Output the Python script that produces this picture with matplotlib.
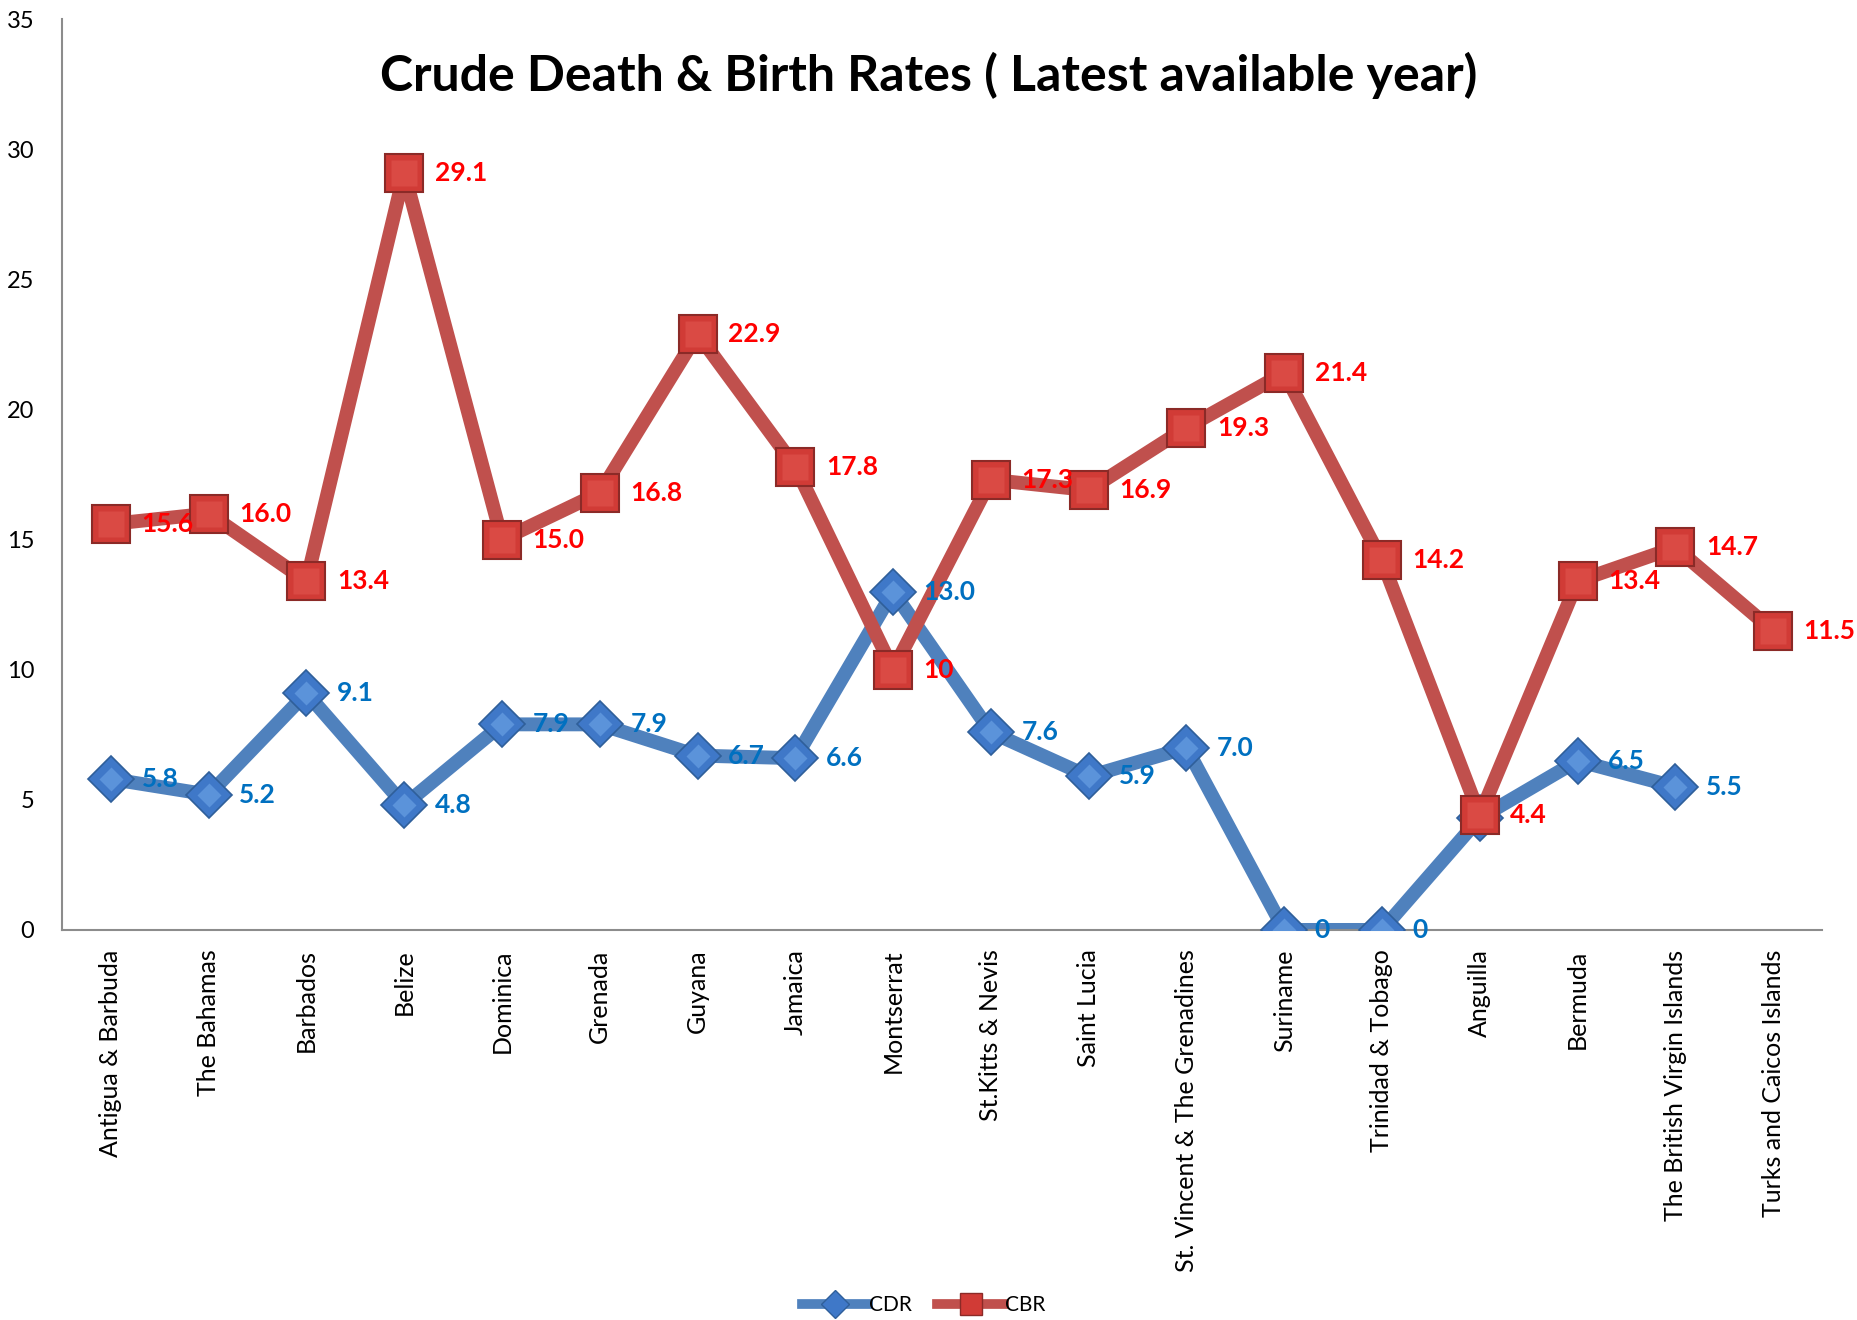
import matplotlib
matplotlib.use("Agg")
import matplotlib.pyplot as plt
import numpy as np
from matplotlib.lines import Line2D

plt.rcParams['font.family'] = ['Lato', 'DejaVu Sans']

countries = ["Antigua & Barbuda", "The Bahamas", "Barbados", "Belize", "Dominica",
             "Grenada", "Guyana", "Jamaica", "Montserrat", "St.Kitts & Nevis",
             "Saint Lucia", "St. Vincent & The Grenadines", "Suriname",
             "Trinidad & Tobago", "Anguilla", "Bermuda", "The British Virgin Islands",
             "Turks and Caicos Islands"]
cdr = [5.8, 5.2, 9.1, 4.8, 7.9, 7.9, 6.7, 6.6, 13.0, 7.6, 5.9, 7.0, 0, 0, 4.3, 6.5, 5.5, np.nan]
cdr_labels = ["5.8", "5.2", "9.1", "4.8", "7.9", "7.9", "6.7", "6.6", "13.0", "7.6",
              "5.9", "7.0", "0", "0", "", "6.5", "5.5", ""]
cbr = [15.6, 16.0, 13.4, 29.1, 15.0, 16.8, 22.9, 17.8, 10, 17.3, 16.9, 19.3, 21.4,
       14.2, 4.4, 13.4, 14.7, 11.5]
cbr_labels = ["15.6", "16.0", "13.4", "29.1", "15.0", "16.8", "22.9", "17.8", "10",
              "17.3", "16.9", "19.3", "21.4", "14.2", "4.4", "13.4", "14.7", "11.5"]
yticks = [0, 5, 10, 15, 20, 25, 30, 35]

blue_line = "#4F81BD"
red_line = "#C0504D"
blue_face = "#3F78C8"
red_face = "#D13B36"
blue_txt = "#0070C0"
red_txt = "#FF0000"

fig = plt.figure(figsize=(18.58, 13.20), dpi=100)
ax = fig.add_axes([0.0334, 0.2955, 0.9472, 0.690])
x = np.arange(len(countries))

ax.plot(x, cdr, color=blue_line, lw=10, solid_capstyle='round', zorder=2)
ax.plot(x, cbr, color=red_line, lw=10, solid_capstyle='round', zorder=2)

# markers with simple bevel
ax.plot(x, cdr, ls='none', marker='D', ms=23, mfc=blue_face, mec="#2F5F9A", mew=1.2, zorder=3)
ax.plot(x, cdr, ls='none', marker='D', ms=12, mfc="#5B93DA", mec='none', zorder=3)
ax.plot(x, cbr, ls='none', marker='s', ms=28, mfc=red_face, mec="#8B2A27", mew=1.5, zorder=4)
ax.plot(x, cbr, ls='none', marker='s', ms=19, mfc="#DA4A44", mec='none', zorder=4)

for xi, v, lab in zip(x, cdr, cdr_labels):
    if lab:
        ax.annotate(lab, (xi, v), xytext=(22, 0), textcoords='offset points',
                    ha='left', va='center', color=blue_txt, fontsize=19,
                    fontweight='bold', zorder=5)
for xi, v, lab in zip(x, cbr, cbr_labels):
    ax.annotate(lab, (xi, v), xytext=(22, 0), textcoords='offset points',
                ha='left', va='center', color=red_txt, fontsize=19,
                fontweight='bold', zorder=5)

ax.set_xlim(-0.5, len(countries) - 0.5)
ax.set_ylim(0, 35)
ax.set_yticks(yticks)
ax.set_yticklabels([str(t) for t in yticks], fontsize=17)
ax.set_xticks(x)
ax.set_xticklabels(countries, rotation=90, fontsize=18)
ax.tick_params(axis='y', length=0, pad=20)
ax.tick_params(axis='x', length=0, pad=14)
for s in ['top', 'right']:
    ax.spines[s].set_visible(False)
for s in ['left', 'bottom']:
    ax.spines[s].set_color('#8C8C8C')
    ax.spines[s].set_linewidth(1.5)

fig.text(0.5, 0.943, "Crude Death & Birth Rates ( Latest available year)",
         ha='center', va='center', fontsize=36, fontweight='bold')

handles = [
    Line2D([], [], color=blue_line, lw=7, marker='D', ms=14, mfc=blue_face, mec="#2F5F9A"),
    Line2D([], [], color=red_line, lw=7, marker='s', ms=16, mfc=red_face, mec="#8B2A27"),
]
fig.legend(handles, ["CDR", "CBR"], loc='center', bbox_to_anchor=(0.497, 0.011),
           ncol=2, frameon=False, fontsize=15, handlelength=3.2, handletextpad=0.05,
           columnspacing=1.2)

fig.savefig("out.png", dpi=100)
